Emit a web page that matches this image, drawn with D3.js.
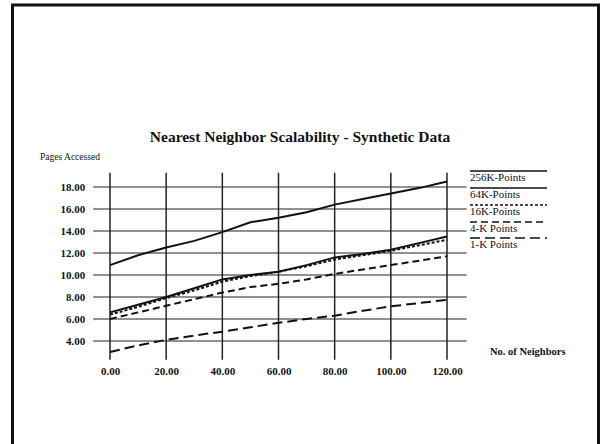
<!DOCTYPE html>
<html>
<head>
<meta charset="utf-8">
<script src="https://cdn.jsdelivr.net/npm/d3@7"></script>
<style>
  html, body { margin: 0; padding: 0; background: #fff; }
  svg { display: block; }
  text { font-family: "Liberation Serif", "DejaVu Serif", serif; fill: #111; }
</style>
</head>
<body>
<div id="chart"></div>
<script>
// Number of neighbors (x) and pages accessed per dataset size
const neighbors = [0, 10, 20, 30, 40, 50, 60, 70, 80, 90, 100, 110, 120];
const pts256K = [10.9, 11.8, 12.5, 13.1, 13.9, 14.8, 15.2, 15.7, 16.4, 16.9, 17.4, 17.9, 18.5];
const pts64K  = [6.6, 7.3, 8.0, 8.8, 9.6, 10.0, 10.3, 10.9, 11.6, 11.9, 12.3, 12.9, 13.5];
const pts16K  = [6.4, 7.1, 7.9, 8.6, 9.4, 9.9, 10.3, 10.8, 11.4, 11.8, 12.2, 12.7, 13.2];
const pts4K   = [6.0, 6.6, 7.2, 7.8, 8.4, 8.9, 9.2, 9.6, 10.1, 10.5, 10.9, 11.3, 11.7];
const pts1K   = [3.0, 3.6, 4.1, 4.5, 4.85, 5.25, 5.65, 6.0, 6.3, 6.75, 7.15, 7.45, 7.75];

const seriesNames = ['256K-Points', '64K-Points', '16K-Points', '4-K Points', '1-K Points'];
const seriesValues = [pts256K, pts64K, pts16K, pts4K, pts1K];
const dashes = [null, null, '3,2', '7,4', '10,5'];

const xTicks = [0, 20, 40, 60, 80, 100, 120];
const yTicks = [4, 6, 8, 10, 12, 14, 16, 18];

const W = 602, H = 444;

const svg = d3.select('#chart')
    .append('svg')
    .attr('width', W)
    .attr('height', H);

// outer frame (bottom runs off the picture)
svg.append('rect')
    .attr('x', 12.5)
    .attr('y', 5)
    .attr('width', 586)
    .attr('height', 470)
    .attr('fill', 'none')
    .attr('stroke', '#111')
    .attr('stroke-width', 3);

const x = d3.scaleLinear().domain([0, 120]).range([110, 447]);
const y = d3.scaleLinear().domain([4, 18]).range([341, 187]);

// grid extents in data units
const gridLeft = -6, gridRight = 127;
const gridTop = 19.3, gridBottom = 2.3;

const grid = svg.append('g')
    .attr('stroke', '#222')
    .attr('stroke-width', 1.2);

grid.selectAll('.hgrid')
    .data(yTicks)
    .enter()
    .append('line')
    .attr('x1', x(gridLeft))
    .attr('x2', x(gridRight))
    .attr('y1', d => y(d))
    .attr('y2', d => y(d));

grid.selectAll('.vgrid')
    .data(xTicks)
    .enter()
    .append('line')
    .attr('x1', d => x(d))
    .attr('x2', d => x(d))
    .attr('y1', y(gridTop))
    .attr('y2', y(gridBottom))
    .attr('stroke-width', 1.5);

// axes: labels only
const xAxis = svg.append('g')
    .attr('transform', `translate(0,${y(gridBottom)})`)
    .call(d3.axisBottom(x).tickValues(xTicks).tickFormat(d3.format('.2f')).tickSize(0).tickPadding(8));
xAxis.select('.domain').remove();
xAxis.selectAll('text')
    .style('font-family', '"Liberation Serif", serif')
    .style('font-size', '11px')
    .style('font-weight', 'bold')
    .attr('fill', '#111');

const yAxis = svg.append('g')
    .attr('transform', `translate(${x(gridLeft)},0)`)
    .call(d3.axisLeft(y).tickValues(yTicks).tickFormat(d3.format('.2f')).tickSize(0).tickPadding(8));
yAxis.select('.domain').remove();
yAxis.selectAll('text')
    .style('font-family', '"Liberation Serif", serif')
    .style('font-size', '11px')
    .style('font-weight', 'bold')
    .attr('fill', '#111');

// data lines
const line = d3.line()
    .x((d, i) => x(neighbors[i]))
    .y(d => y(d));

seriesValues.forEach((vals, i) => {
    svg.append('path')
        .datum(vals)
        .attr('fill', 'none')
        .attr('stroke', '#111')
        .attr('stroke-width', 2)
        .attr('stroke-dasharray', dashes[i])
        .attr('d', line);
});

// legend on the right
const legendY = [178, 195, 212, 229, 245];
const legend = svg.append('g');
seriesNames.forEach((name, i) => {
    legend.append('line')
        .attr('x1', 470)
        .attr('x2', 547)
        .attr('y1', legendY[i] - 7)
        .attr('y2', legendY[i] - 7)
        .attr('stroke', '#111')
        .attr('stroke-width', 1.5)
        .attr('stroke-dasharray', dashes[i]);
    legend.append('text')
        .attr('x', 470)
        .attr('y', legendY[i] + 3)
        .style('font-size', '11px')
        .text(name);
});

// titles
svg.append('text')
    .attr('x', 300)
    .attr('y', 142)
    .attr('text-anchor', 'middle')
    .style('font-size', '15.5px')
    .style('font-weight', 'bold')
    .text('Nearest Neighbor Scalability - Synthetic Data');

svg.append('text')
    .attr('x', 40)
    .attr('y', 160)
    .style('font-size', '9.5px')
    .text('Pages Accessed');

svg.append('text')
    .attr('x', 490)
    .attr('y', 355)
    .style('font-size', '10.5px')
    .style('font-weight', 'bold')
    .text('No. of Neighbors');
</script>
</body>
</html>
